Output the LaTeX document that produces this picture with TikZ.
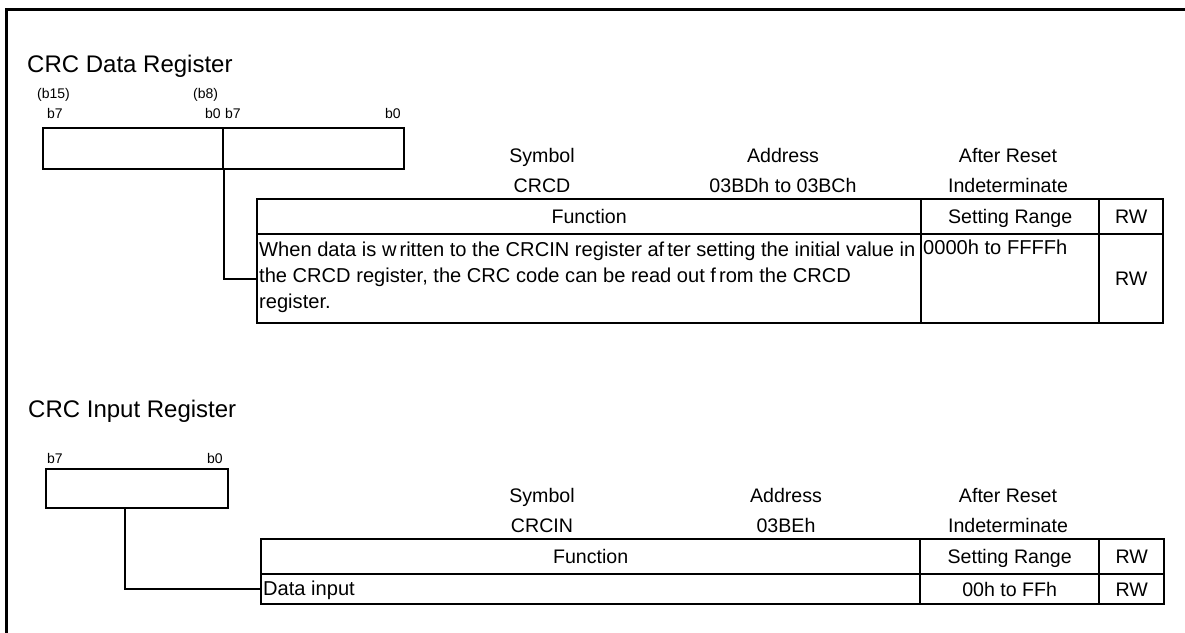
\documentclass[tikz,border=0pt]{standalone}
\usepackage{fontspec}
\setmainfont{Liberation Sans}
\newcommand{\mytabfont}{\fontsize{19.6}{26}\selectfont}
\newcommand{\mybodyfont}{\fontsize{20.1}{26}\selectfont}
\newcommand{\mybitfont}{\fontsize{14}{16}\selectfont}
\newcommand{\myttlfont}{\fontsize{24}{28}\selectfont}
\begin{document}
\begin{tikzpicture}[x=1pt,y=-1pt,
  box/.style={draw,line width=2pt,rectangle,inner sep=0pt,anchor=north west},
  cell/.style={draw,line width=2.4pt,rectangle,inner sep=0pt,anchor=north west,font=\mytabfont,text height=14pt,text depth=0pt},
  lbl/.style={inner sep=0pt,font=\mytabfont,anchor=base},
  txt/.style={inner sep=0pt,font=\mybodyfont,anchor=base west},
  bitl/.style={inner sep=0pt,font=\mybitfont,anchor=base west},
  ttl/.style={inner sep=0pt,font=\myttlfont,anchor=base west},
  conn/.style={line width=2pt}]
\useasboundingbox (0,0) rectangle (1185,632);
% outer frame
\draw[line width=3pt] (1190,9) -- (6,9) -- (6,640);

% ---------- CRC Data Register ----------
\node[ttl] (title1) at (27,72) {CRC Data Register};
\node[bitl] (b15) at (37,98) {(b15)};
\node[bitl] (b7a) at (47,118) {b7};
\node[bitl] (b8) at (193,98) {(b8)};
\node[bitl] (b0a) at (205,118) {b0};
\node[bitl] (b7b) at (225,118) {b7};
\node[bitl] (b0b) at (385,118) {b0};
\node[box,minimum width=180pt,minimum height=41pt] (r1h) at (42,127) {};
\node[box,minimum width=181pt,minimum height=41pt] (r1l) at (222,127) {};

\node[lbl] (sym1) at (542,162) {Symbol};
\node[lbl] (sym1v) at (542,192) {CRCD};
\node[lbl] (adr1) at (783,162) {Address};
\node[lbl] (adr1v) at (783,192) {03BDh to 03BCh};
\node[lbl] (rst1) at (1008,162) {After Reset};
\node[lbl] (rst1v) at (1008,192) {Indeterminate};

\node[cell,minimum width=664pt,minimum height=35pt] (t1hf) at (256,198) {Function};
\node[cell,minimum width=178pt,minimum height=35pt] (t1hs) at (920,198) {Setting Range};
\node[cell,minimum width=64pt,minimum height=35pt] (t1hr) at (1098,198) {RW};
\node[cell,minimum width=664pt,minimum height=89pt] (t1f) at (256,233) {};
\node[cell,minimum width=178pt,minimum height=89pt] (t1s) at (920,233) {};
\node[cell,minimum width=64pt,minimum height=89pt] (t1r) at (1098,233) {RW};
\node[txt] (t1l1) at (259,256) {When data is w\hspace{3pt}ritten to the CRCIN register af\hspace{3pt}ter setting the initial value in};
\node[txt] (t1l2) at (259,282) {the CRCD register, the CRC code can be read out f\hspace{3pt}rom the CRCD};
\node[txt] (t1l3) at (259,308) {register.};
\node[txt] (t1sv) at (923,254) {0000h to FFFFh};

\draw[conn] (r1h.south east) |- (t1f.west);

% ---------- CRC Input Register ----------
\node[ttl] (title2) at (28,417) {CRC Input Register};
\node[bitl] (c7) at (47,463) {b7};
\node[bitl] (c0) at (207,463) {b0};
\node[box,minimum width=182pt,minimum height=39pt] (r2) at (45,468) {};
\coordinate (r2tap) at (125,507);

\node[lbl] (sym2) at (542,502) {Symbol};
\node[lbl] (sym2v) at (542,532) {CRCIN};
\node[lbl] (adr2) at (786,502) {Address};
\node[lbl] (adr2v) at (786,532) {03BEh};
\node[lbl] (rst2) at (1008,502) {After Reset};
\node[lbl] (rst2v) at (1008,532) {Indeterminate};

\node[cell,minimum width=659pt,minimum height=35pt] (t2hf) at (260,538) {Function};
\node[cell,minimum width=179pt,minimum height=35pt] (t2hs) at (919,538) {Setting Range};
\node[cell,minimum width=65pt,minimum height=35pt] (t2hr) at (1098,538) {RW};
\node[cell,minimum width=659pt,minimum height=30pt] (t2f) at (260,573) {};
\node[cell,minimum width=179pt,minimum height=30pt] (t2s) at (919,573) {00h to FFh};
\node[cell,minimum width=65pt,minimum height=30pt] (t2r) at (1098,573) {RW};
\node[txt] (t2l1) at (263,595) {Data input};

\draw[conn] (r2tap) |- (t2f.west);
\end{tikzpicture}
\end{document}
